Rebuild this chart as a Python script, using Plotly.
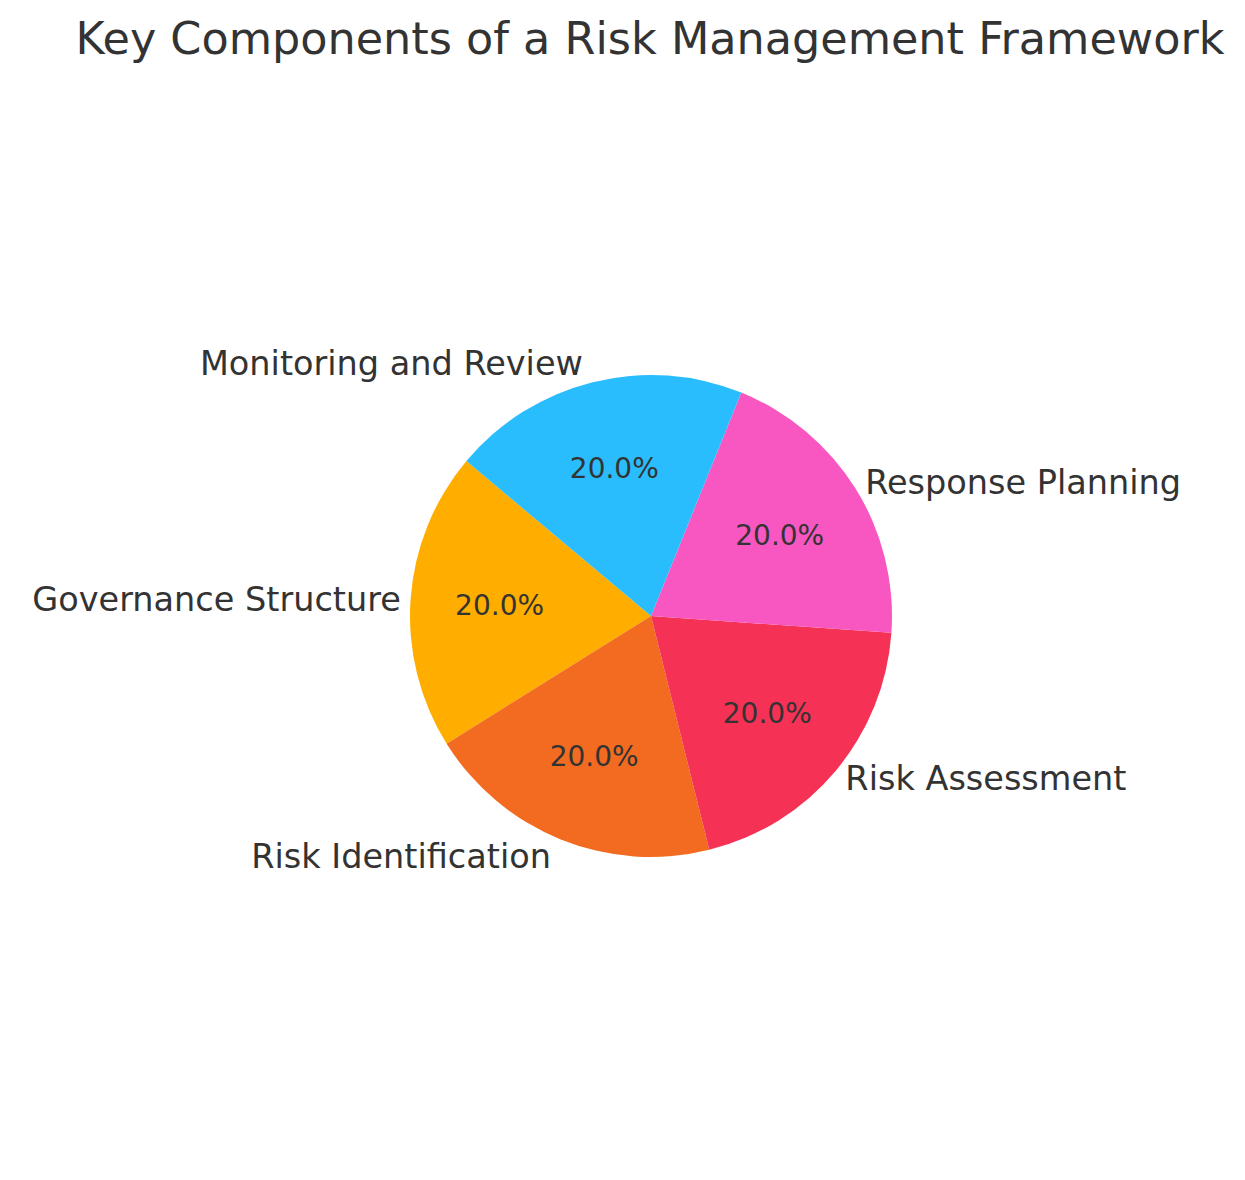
import plotly.graph_objects as go

# Key components, equal weighting
labels = ['Governance Structure', 'Risk Identification', 'Risk Assessment',
          'Response Planning', 'Monitoring and Review']
sizes = [20, 20, 20, 20, 20]
colors = ['#FFAE00', '#F26B21', '#F53255', '#F857C1', '#29BDFD']

W, H = 1245, 1180
cx, cy, r = 643, 608, 241
dom_x = [(cx - r) / W, (cx + r) / W]
dom_y = [(H - cy - r) / H, (H - cy + r) / H]

fig = go.Figure()

# slices with percentages inside
fig.add_trace(go.Pie(
    labels=labels, values=sizes, sort=False,
    direction='counterclockwise', rotation=-122,
    marker=dict(colors=colors, line=dict(width=0)),
    textinfo='percent', texttemplate='%{percent:.1%}',
    textposition='inside', insidetextorientation='horizontal',
    textfont=dict(family='DejaVu Sans', size=28, color='#333333'),
    domain=dict(x=dom_x, y=dom_y),
    showlegend=False, hoverinfo='label+percent',
))

# transparent copy carrying the outside labels
fig.add_trace(go.Pie(
    labels=labels, values=sizes, sort=False,
    direction='counterclockwise', rotation=-122,
    marker=dict(colors=['rgba(0,0,0,0)'] * 5, line=dict(width=0)),
    textinfo='label', textposition='outside',
    textfont=dict(family='DejaVu Sans', size=33.5, color='#333333'),
    domain=dict(x=dom_x, y=dom_y),
    showlegend=False, hoverinfo='skip',
))

fig.update_layout(
    width=W, height=H,
    margin=dict(l=0, r=0, t=0, b=0),
    paper_bgcolor='white', plot_bgcolor='white',
    title=dict(text='Key Components of a Risk Management Framework',
               x=0.5157, xanchor='center', y=0.9746, yanchor='middle',
               font=dict(family='DejaVu Sans', size=44.5, color='#333333')),
)

fig.write_html('out.html')
